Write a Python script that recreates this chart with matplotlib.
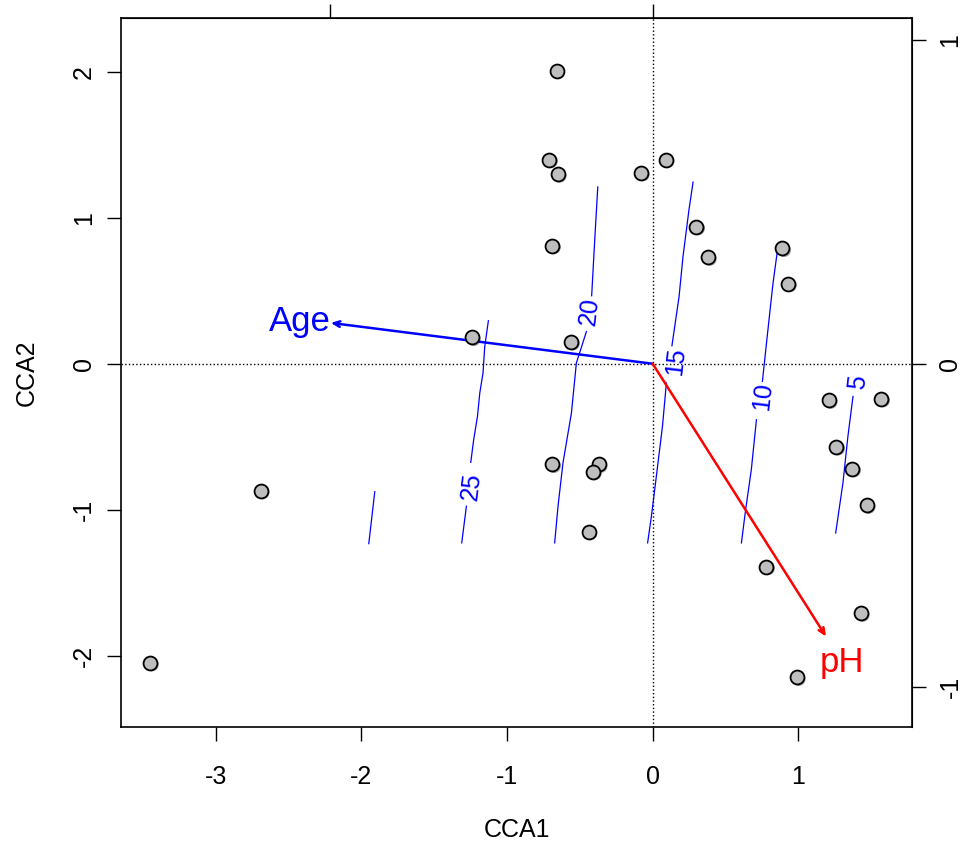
import numpy as np
import matplotlib.pyplot as plt
from matplotlib import transforms

plt.rcParams['font.family'] = ['Liberation Sans', 'DejaVu Sans']
plt.rcParams['axes.unicode_minus'] = False

# site scores (CCA1, CCA2)
site_x = [-0.66, -0.71, -0.65, 0.09, -0.08, 0.30, 0.38, -0.69, 0.89, 0.93,
          -1.24, -0.56, 1.21, 1.57, 1.26, 1.37, 1.47, -0.69, -0.37, -0.41,
          -0.44, -2.69, -3.45, 0.78, 1.43, 0.99]
site_y = [2.01, 1.40, 1.30, 1.40, 1.31, 0.94, 0.73, 0.81, 0.79, 0.55,
          0.18, 0.15, -0.25, -0.24, -0.57, -0.72, -0.97, -0.69, -0.69, -0.74,
          -1.15, -0.87, -2.05, -1.39, -1.71, -2.15]

# biplot arrows
env_names = ['Age', 'pH']
env_x = [-2.21, 1.19]
env_y = [0.28, -1.87]
env_colors = ['blue', 'red']
label_x = [-2.42, 1.30]
label_y = [0.29, -2.05]

# ordisurf contour pieces for Age (level, x, y)
contours = [
    (30, [-1.908, -1.949], [-0.877, -1.233]),
    (25, [-1.128, -1.153, -1.165, -1.187, -1.203, -1.229, -1.249],
         [0.295, 0.118, -0.064, -0.200, -0.361, -0.521, -0.676]),
    (25, [-1.279, -1.311], [-0.977, -1.228]),
    (20, [-0.377, -0.398, -0.419], [1.212, 0.849, 0.466]),
    (20, [-0.455, -0.524, -0.558, -0.616, -0.650, -0.673],
         [0.221, 0.005, -0.338, -0.680, -0.977, -1.228]),
    (15, [0.277, 0.249, 0.208, 0.181, 0.132], [1.245, 1.055, 0.735, 0.461, 0.123]),
    (15, [0.094, 0.067, 0.025, -0.009, -0.035], [-0.132, -0.429, -0.772, -1.046, -1.228]),
    (10, [0.860, 0.826, 0.791, 0.753], [0.803, 0.553, 0.233, -0.121]),
    (10, [0.712, 0.677, 0.638, 0.609], [-0.384, -0.726, -1.000, -1.228]),
    (5, [1.375, 1.340, 1.306, 1.256], [-0.224, -0.498, -0.817, -1.160]),
]
clabel_text = ['25', '20', '15', '10', '5']
clabel_x = [-1.242, -0.432, 0.158, 0.755, 1.407]
clabel_y = [-0.842, 0.356, 0.014, -0.226, -0.130]

xticks = [-3, -2, -1, 0, 1]
yticks = [-2, -1, 0, 1, 2]
arrow_ticks = [-1, 0, 1]

fig = plt.figure(figsize=(9.63, 8.43), dpi=100)
ax = fig.add_axes([121 / 963, 116 / 843, 791 / 963, 709 / 843])
ax.set_xlim(-3.65, 1.78)
ax.set_ylim(-2.49, 2.37)

ax.axhline(0, color='black', ls=':', lw=1)
ax.axvline(0, color='black', ls=':', lw=1)

for lev, xs, ys in contours:
    ax.plot(xs, ys, color='blue', lw=0.9)
for t, x, y in zip(clabel_text, clabel_x, clabel_y):
    ax.text(x, y, t, color='blue', fontsize=18, rotation=83,
            ha='center', va='center', rotation_mode='anchor')

# points with faint shadow
shadow = transforms.offset_copy(ax.transData, fig=fig, x=1.2, y=-1.2, units='points')
ax.scatter(site_x, site_y, s=100, c='#a0a0a0', edgecolors='none', transform=shadow, zorder=3)
ax.scatter(site_x, site_y, s=100, c='#bebebe', edgecolors='black', linewidths=1.3, zorder=4)

for name, x, y, c, lx, ly in zip(env_names, env_x, env_y, env_colors, label_x, label_y):
    ax.annotate('', xy=(x, y), xytext=(0, 0),
                arrowprops=dict(arrowstyle='->,head_length=0.45,head_width=0.2',
                                color=c, lw=1.8, shrinkA=0, shrinkB=0))
    ax.text(lx, ly, name, color=c, fontsize=25, ha='center', va='center')

ax.set_xticks(xticks)
ax.set_xticklabels([str(v) for v in xticks])
ax.set_yticks(yticks)
ax.set_yticklabels([str(v) for v in yticks], rotation=90, va='center')
ax.tick_params(direction='out', length=10, width=1, labelsize=18)
ax.tick_params(axis='x', pad=17)
ax.tick_params(axis='y', pad=8)
ax.set_xlabel('CCA1', fontsize=18, va='center')
ax.set_ylabel('CCA2', fontsize=18, va='center')
ax.xaxis.set_label_coords(0.5, (727 - 830) / 709)
ax.yaxis.set_label_coords((27 - 121) / 791, 0.5)
for sp in ax.spines.values():
    sp.set_linewidth(1.2)

# arrow scale axes (top/right)
mul = 2.216
ax_top = ax.secondary_xaxis('top', functions=(lambda v: v / mul, lambda v: v * mul))
ax_top.set_xticks(arrow_ticks)
ax_top.set_xticklabels([])
ax_top.tick_params(direction='out', length=10, width=1)
ax_right = ax.secondary_yaxis('right', functions=(lambda v: v / mul, lambda v: v * mul))
ax_right.set_yticks(arrow_ticks)
ax_right.set_yticklabels([str(v) for v in arrow_ticks], rotation=90, va='center')
ax_right.tick_params(direction='out', length=10, width=1, labelsize=18, pad=9)

fig.savefig('out.png', dpi=100)
